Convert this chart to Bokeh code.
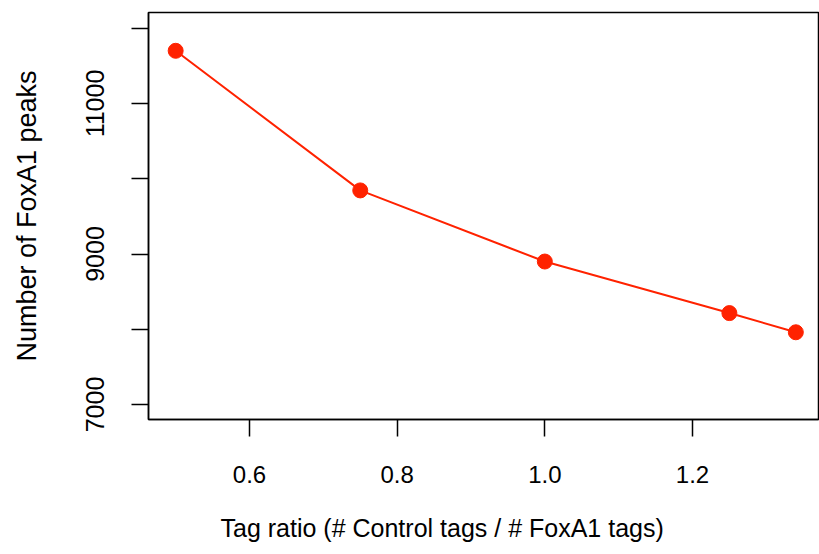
from bokeh.plotting import figure
from bokeh.models import Range1d, FixedTicker, Title
from bokeh.embed import file_html
from bokeh.resources import INLINE

# Data
tag_ratio = [0.5, 0.75, 1.0, 1.25, 1.34]
foxa1_peaks = [11700, 9845, 8900, 8215, 7960]

x_ticks = [0.6, 0.8, 1.0, 1.2]
x_tick_labels = ["0.6", "0.8", "1.0", "1.2"]
y_ticks = [7000, 8000, 9000, 10000, 11000, 12000]
y_tick_labels = ["7000", "", "9000", "", "11000", ""]

RED = "#ff2200"
FONT = "Liberation Sans"

p = figure(width=819, height=554, output_backend="svg", toolbar_location=None,
           x_range=Range1d(0.4632, 1.3707), y_range=Range1d(6801, 12209),
           min_border_left=148, min_border_top=12, min_border_right=1, min_border_bottom=135)

p.line(tag_ratio, foxa1_peaks, line_color=RED, line_width=2)
p.scatter(tag_ratio, foxa1_peaks, size=15, fill_color=RED, line_color=RED)

p.grid.visible = False
p.outline_line_color = "black"
p.outline_line_width = 1.5
p.outline_line_alpha = 1

p.xaxis.ticker = FixedTicker(ticks=x_ticks)
p.xaxis.major_label_overrides = dict(zip(x_ticks, x_tick_labels))
p.yaxis.ticker = FixedTicker(ticks=y_ticks)
p.yaxis.major_label_overrides = dict(zip(y_ticks, y_tick_labels))
p.yaxis.major_label_orientation = "vertical"

for ax in (p.xaxis[0], p.yaxis[0]):
    ax.axis_line_color = "black"
    ax.axis_line_width = 1.5
    ax.major_tick_line_color = "black"
    ax.major_tick_line_width = 1.5
    ax.major_tick_out = 17
    ax.major_tick_in = 0
    ax.minor_tick_line_color = None
    ax.major_label_text_font = FONT
    ax.major_label_text_color = "black"
    ax.axis_label_text_font = FONT
    ax.axis_label_text_font_style = "normal"
    ax.axis_label_text_color = "black"

p.xaxis.major_label_text_font_size = "24px"
p.xaxis.major_label_standoff = 29
# blank spacer label so the title below sits lower, as in the reference
p.xaxis.axis_label = " "
p.xaxis.axis_label_text_font_size = "1px"
p.xaxis.axis_label_standoff = 17

x_title = Title(text="Tag ratio (# Control tags / # FoxA1 tags)", align="left", offset=72,
                text_font=FONT, text_font_size="25px", text_font_style="normal",
                text_color="black", standoff=10)
p.add_layout(x_title, "below")

p.yaxis.axis_label = "Number of FoxA1 peaks"
p.yaxis.major_label_text_font_size = "25px"
p.yaxis.axis_label_text_font_size = "27px"
p.yaxis.major_label_standoff = 27
p.yaxis.axis_label_standoff = 42

open("out.html", "w").write(file_html(p, INLINE))
